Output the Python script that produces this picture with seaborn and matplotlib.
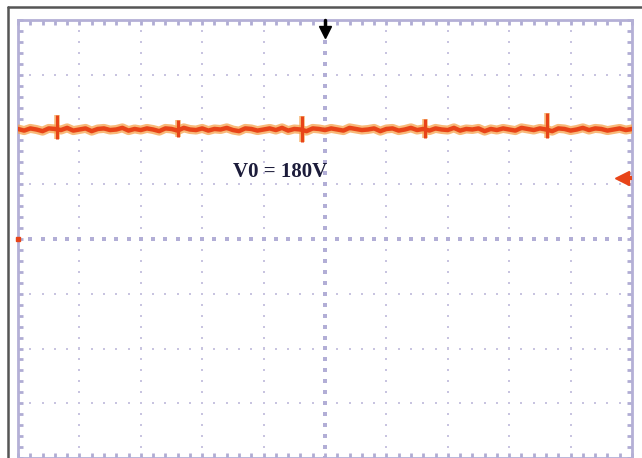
import numpy as np
import matplotlib
matplotlib.use("Agg")
import matplotlib.pyplot as plt
import seaborn as sns
from matplotlib.lines import Line2D
from matplotlib.ticker import MultipleLocator

# --- datos (en divisiones de pantalla) ---
nivel_dc = 2.0  # V0 = 180V, 2 div sobre el centro
rizado = [0.01, -0.02, 0.02, 0.00, -0.03, 0.02, 0.01, -0.01, 0.03, -0.02,
          0.00, 0.02, -0.03, 0.01, 0.02, -0.01, 0.00, 0.03, -0.02, 0.01,
          -0.01, 0.02, 0.00, -0.03, 0.02, 0.01, -0.02, 0.03, 0.00, -0.01,
          0.02, -0.02, 0.01, 0.00, 0.03, -0.01, -0.03, 0.02, 0.01, -0.02,
          0.00, 0.02, -0.01, 0.03, -0.02, 0.01, 0.00, -0.03, 0.02, 0.01,
          -0.01, 0.02, 0.00, -0.02, 0.03, 0.01, -0.01, 0.00, 0.02, -0.03,
          0.01, 0.02, -0.02, 0.00, 0.03, -0.01, 0.01, -0.02, 0.02, 0.00,
          -0.01, 0.03, -0.02, 0.01, 0.00, 0.02, -0.03, 0.01, -0.01, 0.02,
          0.00, -0.02, 0.03, 0.01, -0.01, 0.02, 0.00, -0.03, 0.02, 0.01,
          -0.02, 0.00, 0.03, -0.01, 0.02, 0.01, -0.02, 0.00, 0.02, -0.01, 0.01]
t_muestras = np.linspace(0, 10, len(rizado))

t_picos = [0.64, 2.61, 4.63, 6.63, 8.62]
pico_arriba = [2.27, 2.18, 2.24, 2.20, 2.31]
pico_abajo = [1.82, 1.86, 1.78, 1.85, 1.84]

etiqueta = "V0 = 180V"
etiqueta_pos = (4.27, 1.22)
marcador_trigger = (5.0, 3.78)
marcador_nivel = (9.84, 1.11)
marcador_tierra = (0.0, 0.0)

sns.set_style("white")

color_grilla = "#b2aed6"
color_traza = "#e84418"

fig = plt.figure(figsize=(6.42, 4.58), dpi=100)
ax = fig.add_axes([18 / 642, 0.0, 614 / 642, 438 / 458])
ax.set_xlim(0, 10)
ax.set_ylim(-4, 4)

# grilla de puntos
sub = np.arange(0, 10.01, 0.2)
sub_y = np.arange(-4, 4.01, 0.2)
for gx in range(1, 10):
    if gx == 5:
        continue
    ax.scatter(np.full(len(sub_y), gx), sub_y, s=3.5, marker="s", color="#c8c4e0", lw=0, zorder=1)
for gy in range(-3, 4):
    if gy == 0:
        continue
    ax.scatter(sub, np.full(len(sub), gy), s=3.5, marker="s", color="#c8c4e0", lw=0, zorder=1)
# ejes centrales
ax.scatter(np.full(len(sub_y), 5), sub_y, s=6, marker="s", color=color_grilla, lw=0, zorder=1)
ax.scatter(sub, np.zeros(len(sub)), s=6, marker="s", color=color_grilla, lw=0, zorder=1)

# traza
traza = np.array(rizado) + nivel_dc
sns.lineplot(x=t_muestras, y=traza, ax=ax, color="#f6a24c", lw=6.5, alpha=0.75, zorder=3)
sns.lineplot(x=t_muestras, y=traza, ax=ax, color=color_traza, lw=3.2, zorder=4)
ax.vlines(t_picos, pico_abajo, pico_arriba, color="#f6a24c", lw=4, alpha=0.75, zorder=3)
ax.vlines(t_picos, pico_abajo, pico_arriba, color=color_traza, lw=2.2, zorder=4)

ax.text(*etiqueta_pos, etiqueta, family="Liberation Serif", fontsize=15, weight="bold",
        color="#1c1c3a", ha="center", va="center", zorder=5)

# marcadores del osciloscopio
ax.plot([marcador_trigger[0]] * 2, [4.0, marcador_trigger[1]], color="black", lw=2.5, clip_on=False, zorder=6)
ax.plot(*marcador_trigger, marker="v", ms=9, color="black", clip_on=False, zorder=6)
ax.plot([marcador_nivel[0], 10], [marcador_nivel[1]] * 2, color=color_traza, lw=3, zorder=6)
ax.plot(*marcador_nivel, marker="<", ms=10, color=color_traza, clip_on=False, zorder=6)
ax.plot(*marcador_tierra, marker="s", ms=3.5, color=color_traza, clip_on=False, zorder=6)

# bordes con marcas
for s in ax.spines.values():
    s.set_color("#b4b0d6")
    s.set_linewidth(2)
ax.xaxis.set_major_locator(MultipleLocator(1))
ax.yaxis.set_major_locator(MultipleLocator(1))
ax.xaxis.set_minor_locator(MultipleLocator(0.2))
ax.yaxis.set_minor_locator(MultipleLocator(0.2))
ax.tick_params(which="both", direction="in", top=True, right=True, bottom=True, left=True,
               length=3.5, width=2, color="#b0acd4", labelbottom=False, labelleft=False)
ax.set_xlabel("")
ax.set_ylabel("")

# marco exterior
fig.add_artist(Line2D([8 / 642, 8 / 642], [0, 451 / 458], color="#555555", lw=1.8))
fig.add_artist(Line2D([8 / 642, 1], [451 / 458, 451 / 458], color="#555555", lw=1.8))

fig.savefig("out.png", dpi=100)
